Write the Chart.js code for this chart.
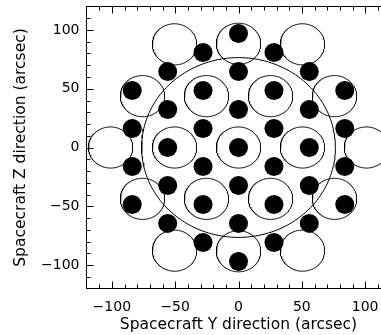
<!DOCTYPE html>
<html>
<head>
<meta charset="utf-8">
<script src="https://cdn.jsdelivr.net/npm/chart.js@4/dist/chart.umd.min.js"></script>
<style>
  html, body { margin: 0; padding: 0; background: #fff; overflow: hidden; }
  #wrap { width: 400px; height: 335px; }
</style>
</head>
<body>
<div id="wrap"><canvas id="c" width="400" height="335"></canvas></div>
<script>
// ---- Data (arcsec) ----
// Open circles (centres) and their radius
const circleX = [0, 50.5, -50.5, 25.3, -25.3, 25.3, -25.3, 101, -101, 50.5, -50.5, 50.5, -50.5, 0, 0, 75.8, -75.8, 75.8, -75.8];
const circleY = [0, 0, 0, 43.7, 43.7, -43.7, -43.7, 0, 0, 87.8, 87.8, -87.8, -87.8, 88.3, -88.3, 43.7, 43.7, -43.7, -43.7];
const circleR = 17.5;
// Large circle
const bigCircleX = 0, bigCircleY = 0, bigCircleR = 76.5;
// Filled dots
const dotX = [0, 0, 0, 0, 0, 0, 0,
  28, 28, 28, 28, 28, 28,
  -28, -28, -28, -28, -28, -28,
  55.9, 55.9, 55.9, 55.9, 55.9,
  -55.9, -55.9, -55.9, -55.9, -55.9,
  83.9, 83.9, 83.9, 83.9,
  -83.9, -83.9, -83.9, -83.9];
const dotY = [0, 32.3, -32.3, 64.6, -64.6, 97, -97,
  16.2, -16.2, 48.5, -48.5, 80.8, -80.8,
  16.2, -16.2, 48.5, -48.5, 80.8, -80.8,
  0, 32.3, -32.3, 64.6, -64.6,
  0, 32.3, -32.3, 64.6, -64.6,
  16.2, -16.2, 48.5, -48.5,
  16.2, -16.2, 48.5, -48.5];
// Axes
const axisMin = -120, axisMax = 120;
const xTicks = [-100, -50, 0, 50, 100];
const yTicks = [-100, -50, 0, 50, 100];
const minorStep = 10;
const xTitle = 'Spacecraft Y direction (arcsec)';
const yTitle = 'Spacecraft Z direction (arcsec)';

// ---- Build outline paths from centre + radius ----
function ring(cx, cy, r) {
  const pts = [];
  const n = 180;
  for (let k = 0; k <= n; k++) {
    const a = 2 * Math.PI * k / n;
    pts.push({ x: cx + r * Math.cos(a), y: cy + r * Math.sin(a) });
  }
  return pts;
}

const datasets = [];
datasets.push({
  label: 'dots',
  data: dotX.map((x, i) => ({ x: x, y: dotY[i] })),
  showLine: false, pointRadius: 9.5, pointBorderWidth: 0,
  pointBackgroundColor: '#000', pointBorderColor: '#000'
});
circleX.forEach((cx, i) => {
  datasets.push({ label: 'c' + i, data: ring(cx, circleY[i], circleR), showLine: true,
    borderColor: '#000', borderWidth: 1, pointRadius: 0, fill: false, tension: 0 });
});
datasets.push({ label: 'big', data: ring(bigCircleX, bigCircleY, bigCircleR), showLine: true,
  borderColor: '#000', borderWidth: 1, pointRadius: 0, fill: false, tension: 0 });

const FONT = "'DejaVu Sans', sans-serif";
const minus = v => String(v).replace('-', '\u2212');

// Frame + inward ticks on all four sides
const framePlugin = {
  id: 'frame',
  afterDraw(chart) {
    const ctx = chart.ctx, a = chart.chartArea;
    const xs = chart.scales.x, ys = chart.scales.y;
    ctx.save();
    ctx.strokeStyle = '#000';
    ctx.lineWidth = 1;
    ctx.strokeRect(a.left, a.top, a.right - a.left, a.bottom - a.top);
    ctx.beginPath();
    for (let v = axisMin + minorStep; v < axisMax; v += minorStep) {
      const len = (v % 50 === 0) ? 7 : 4;
      const px = Math.round(xs.getPixelForValue(v)) + 0.5;
      ctx.moveTo(px, a.bottom); ctx.lineTo(px, a.bottom - len);
      ctx.moveTo(px, a.top); ctx.lineTo(px, a.top + len);
      const py = Math.round(ys.getPixelForValue(v)) + 0.5;
      ctx.moveTo(a.left, py); ctx.lineTo(a.left + len, py);
      ctx.moveTo(a.right, py); ctx.lineTo(a.right - len, py);
    }
    ctx.stroke();
    ctx.restore();
  }
};

new Chart(document.getElementById('c'), {
  type: 'scatter',
  data: { datasets: datasets },
  options: {
    responsive: false, animation: false, devicePixelRatio: 1, events: [],
    layout: { autoPadding: false, padding: { left: 0, top: 6.5, right: 9.5, bottom: 0 } },
    plugins: { legend: { display: false }, tooltip: { enabled: false } },
    scales: {
      x: {
        type: 'linear', min: axisMin, max: axisMax,
        afterBuildTicks: s => { s.ticks = xTicks.map(v => ({ value: v })); },
        afterFit: s => { s.height = 46.5; s.paddingLeft = 0; s.paddingRight = 0; },
        grid: { display: false, drawTicks: false }, border: { display: false },
        ticks: { color: '#000', padding: 10, maxRotation: 0, autoSkip: false,
                 font: { family: FONT, size: 14 }, callback: v => minus(v) },
        title: { display: true, text: xTitle, color: '#000',
                 font: { family: FONT, size: 15.5 }, padding: { top: 0, bottom: 1 } }
      },
      y: {
        type: 'linear', min: axisMin, max: axisMax,
        afterBuildTicks: s => { s.ticks = yTicks.map(v => ({ value: v })); },
        afterFit: s => { s.width = 86.5; s.paddingTop = 0; s.paddingBottom = 0; },
        grid: { display: false, drawTicks: false }, border: { display: false },
        ticks: { color: '#000', padding: 7, autoSkip: false,
                 font: { family: FONT, size: 14 }, callback: v => minus(v) },
        title: { display: true, text: yTitle, color: '#000',
                 font: { family: FONT, size: 15.5 }, padding: { top: 11.2, bottom: 0 } }
      }
    }
  },
  plugins: [framePlugin]
});
</script>
</body>
</html>
